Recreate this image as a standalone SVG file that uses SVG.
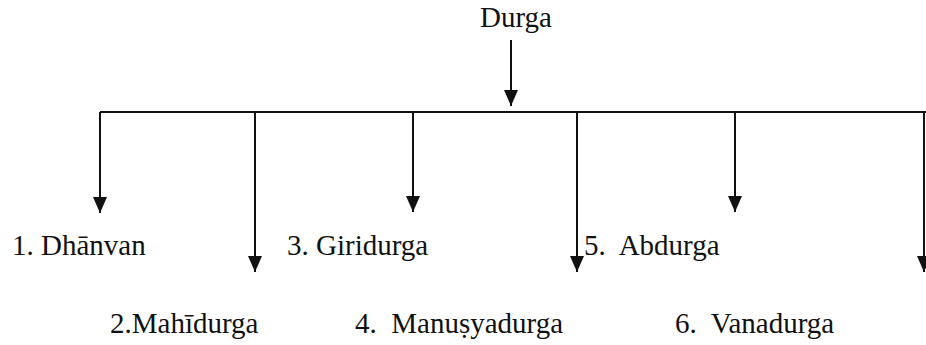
<svg xmlns="http://www.w3.org/2000/svg" width="926" height="345" viewBox="0 0 926 345">
<style>
text{font-size:29px;fill:#111;white-space:pre}
.c line{stroke:#111;stroke-width:2;fill:none}
.a line{marker-end:url(#ah)}
</style>
<defs>
<marker id="ah" markerUnits="userSpaceOnUse" viewBox="0 -7 16 14" refX="16" refY="0" markerWidth="16" markerHeight="14" orient="auto">
<path d="M0,-7 L16,0 L0,7 z" fill="#111"/>
</marker>
</defs>
<rect width="926" height="345" fill="#fff"/>
<g id="connectors" class="c">
<line x1="100" y1="112" x2="926" y2="112"/>
<g class="a">
<line x1="511" y1="40" x2="511" y2="106"/>
<line x1="100" y1="112" x2="100" y2="213"/>
<line x1="255" y1="112" x2="255" y2="272"/>
<line x1="413" y1="112" x2="413" y2="212"/>
<line x1="577" y1="112" x2="577" y2="272"/>
<line x1="735" y1="112" x2="735" y2="212"/>
<line x1="924" y1="112" x2="924" y2="272"/>
</g>
</g>
<g id="n-durga"><text font-family="Liberation Serif, serif" x="480" y="27">Durga</text></g>
<g id="n1"><text font-family="Liberation Serif, serif" x="12" y="255">1. Dhānvan</text></g>
<g id="n2"><text font-family="Liberation Serif, serif" x="110" y="333">2.Mahīdurga</text></g>
<g id="n3"><text font-family="Liberation Serif, serif" x="287" y="255">3. Giridurga</text></g>
<g id="n4"><text font-family="Liberation Serif, serif" x="355" y="333">4.  Manuṣyadurga</text></g>
<g id="n5"><text font-family="Liberation Serif, serif" x="584" y="255">5.  Abdurga</text></g>
<g id="n6"><text font-family="Liberation Serif, serif" x="675" y="333">6.  Vanadurga</text></g>
</svg>
